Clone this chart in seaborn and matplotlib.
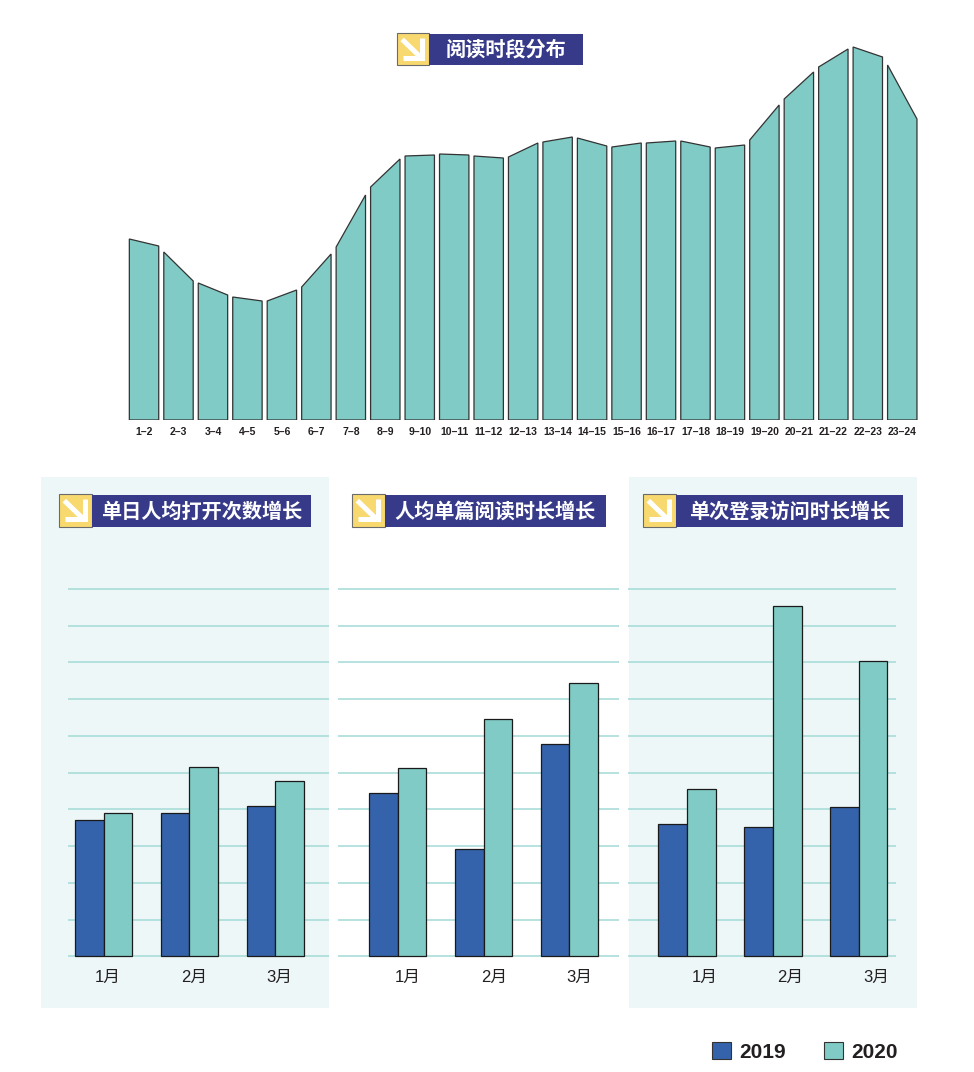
import numpy as np
import pandas as pd
import seaborn as sns
import matplotlib.pyplot as plt
from matplotlib.patches import Rectangle, Patch

sns.set_theme(style='white')
plt.rcParams['font.family'] = ['Liberation Sans', 'Noto Sans CJK SC', 'DejaVu Sans']

# top chart: reading time distribution (bar tops follow a line, left/right heights)
hours = ['1–2', '2–3', '3–4', '4–5', '5–6', '6–7', '7–8', '8–9', '9–10', '10–11',
         '11–12', '12–13', '13–14', '14–15', '15–16', '16–17', '17–18', '18–19',
         '19–20', '20–21', '21–22', '22–23', '23–24']
left_vals = [181, 168, 137, 123, 119, 133, 173, 233, 264, 266, 264, 263,
             278, 282, 273, 277, 279, 272, 280, 321, 353, 373, 355]
right_vals = [174, 139, 125, 119, 130, 166, 225, 261, 265, 265, 262, 277,
              283, 274, 277, 279, 273, 275, 315, 348, 371, 363, 301]

# bottom charts
months = ['1月', '2月', '3月']
years = ['2019', '2020']
open_2019 = [3.71, 3.89, 4.10]
open_2020 = [3.90, 5.16, 4.77]
read_2019 = [4.44, 2.92, 5.77]
read_2020 = [5.13, 6.45, 7.44]
visit_2019 = [3.60, 3.53, 4.06]
visit_2020 = [4.55, 9.54, 8.03]

top_title = '阅读时段分布'
panel_titles = ['单日人均打开次数增长', '人均单篇阅读时长增长', '单次登录访问时长增长']

BLUE = '#3563AB'
TEAL = '#80CBC5'
NAVY = '#363A89'
YELLOW = '#F8D970'
PANEL_BG = '#EDF7F8'
GRID = '#A3DAD6'
TXT = '#231F20'

W, H = 974, 1072
fig = plt.figure(figsize=(W / 100, H / 100), dpi=100)


def px_axes(l, t, r, b):
    return fig.add_axes([l / W, 1 - b / H, (r - l) / W, (b - t) / H])


# background / decoration layer in pixel coordinates
bg = fig.add_axes([0, 0, 1, 1])
bg.set_xlim(0, W)
bg.set_ylim(H, 0)
bg.axis('off')

for (l, r) in [(41, 329), (629, 917)]:
    bg.add_patch(Rectangle((l, 477), r - l, 531, facecolor=PANEL_BG, edgecolor='none'))


def title_box(x0, y0, x1, y1, text):
    s = y1 - y0
    bg.add_patch(Rectangle((x0, y0), s, s, facecolor=YELLOW, edgecolor='#6b6b6b', lw=0.8))
    bg.add_patch(Rectangle((x0 + s, y0 + 0.5), x1 - x0 - s, s - 1, facecolor=NAVY, edgecolor='none'))
    # white arrow pointing down-right
    bg.plot([x0 + 0.16 * s, x0 + 0.72 * s], [y0 + 0.2 * s, y0 + 0.74 * s],
            color='white', lw=3.6, solid_capstyle='butt')
    bg.plot([x0 + 0.79 * s, x0 + 0.79 * s, x0 + 0.18 * s],
            [y0 + 0.15 * s, y0 + 0.77 * s, y0 + 0.77 * s],
            color='white', lw=3.6, solid_joinstyle='miter', solid_capstyle='butt')
    bg.text((x0 + s + x1) / 2, (y0 + y1) / 2 + 0.5, text, color='white', fontsize=14.5,
            fontweight='bold', ha='center', va='center',
            family=['Noto Sans CJK SC', 'DejaVu Sans'])


title_box(397, 33, 583, 65, top_title)
title_box(59, 494, 311, 527, panel_titles[0])
title_box(352, 494, 606, 527, panel_titles[1])
title_box(643, 494, 903, 527, panel_titles[2])

# top chart
ax = px_axes(126.8, 40, 919.5, 420)
ax.set_facecolor('none')
bw = 0.853
for i in range(len(hours)):
    xs = [i - bw / 2, i - bw / 2, i + bw / 2, i + bw / 2]
    ys = [0, left_vals[i], right_vals[i], 0]
    ax.fill(xs, ys, facecolor=TEAL, edgecolor='#333333', lw=0.9, joinstyle='miter')
ax.set_xlim(-0.5, len(hours) - 0.5)
ax.set_ylim(0, 380)
ax.set_xticks(range(len(hours)), hours)
ax.set_yticks([])
ax.tick_params(axis='x', length=0, pad=5, labelsize=7.5, colors=TXT)
for lab in ax.get_xticklabels():
    lab.set_fontweight('bold')
sns.despine(ax=ax, left=True, bottom=True)

# bottom charts
unit = 36.73
base = 956.3
panels = [
    (67.7, 329, (-0.42, 2.627), 0.05, open_2019, open_2020),
    (338, 619, (-0.696, 2.579), 0.12, read_2019, read_2020),
    (628, 896, (-0.688, 2.435), 0.2, visit_2019, visit_2020),
]
for l, r, xlim, off, v19, v20 in panels:
    top = base - 10.1 * unit
    bottom = base + 0.06 * unit
    a = px_axes(l, top, r, bottom)
    a.set_facecolor('none')
    df = pd.DataFrame({
        'month': months * 2,
        'year': [years[0]] * 3 + [years[1]] * 3,
        'value': v19 + v20,
    })
    sns.barplot(data=df, x='month', y='value', hue='year', palette=[BLUE, TEAL],
                width=0.67, saturation=1, edgecolor='#1a1a1a', linewidth=0.9,
                legend=False, ax=a)
    a.set_xlim(*xlim)
    a.set_ylim(-0.06, 10.1)
    a.set_yticks(range(0, 11))
    a.set_yticklabels([])
    a.yaxis.grid(True, color=GRID, lw=1.1)
    a.set_axisbelow(True)
    a.set_xticks([i + off for i in range(3)], months)
    a.tick_params(axis='both', length=0)
    a.tick_params(axis='x', pad=8.5, labelsize=12, colors=TXT)
    a.set_xlabel('')
    a.set_ylabel('')
    sns.despine(ax=a, left=True, bottom=True)

handles = [Patch(facecolor=BLUE, edgecolor='#333333', lw=0.8, label=years[0]),
           Patch(facecolor=TEAL, edgecolor='#333333', lw=0.8, label=years[1])]
leg = fig.legend(handles=handles, loc='center left', ncol=2, frameon=False,
                 bbox_to_anchor=(712 / W, 1 - 1052 / H), borderpad=0, borderaxespad=0,
                 prop={'size': 15, 'weight': 'bold'}, handlelength=0.9, handleheight=0.87,
                 handletextpad=0.4, columnspacing=1.85)
for t in leg.get_texts():
    t.set_color(TXT)

fig.savefig('out.png', dpi=100)
